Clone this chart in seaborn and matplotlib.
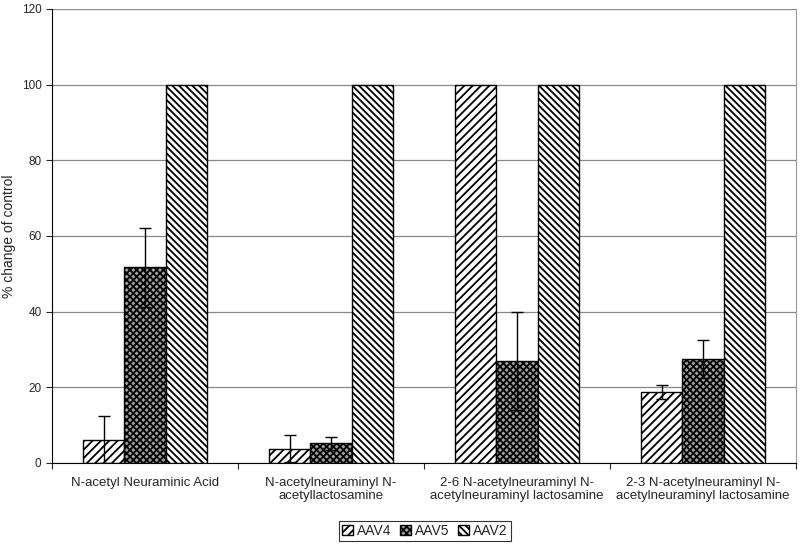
import pandas as pd
import numpy as np
import matplotlib.pyplot as plt
import seaborn as sns

# data
categories = ['N-acetyl Neuraminic Acid',
              'N-acetylneuraminyl N-\nacetyllactosamine',
              '2-6 N-acetylneuraminyl N-\nacetylneuraminyl lactosamine',
              '2-3 N-acetylneuraminyl N-\nacetylneuraminyl lactosamine']
serotypes = ['AAV4', 'AAV5', 'AAV2']
aav4 = [6.2, 3.8, 100, 18.7]
aav5 = [51.7, 5.2, 26.9, 27.4]
aav2 = [100, 100, 100, 100]
aav4_err = [6.2, 3.5, 0, 1.9]
aav5_err = [10.4, 1.7, 13.0, 5.0]
aav2_err = [0, 0, 0, 0]

values = {'AAV4': aav4, 'AAV5': aav5, 'AAV2': aav2}
errors = {'AAV4': aav4_err, 'AAV5': aav5_err, 'AAV2': aav2_err}

df = pd.DataFrame([(c, s, values[s][i]) for s in serotypes for i, c in enumerate(categories)],
                  columns=['group', 'serotype', 'pct'])

sns.set_style('white')
plt.rcParams['font.family'] = ['Liberation Sans', 'DejaVu Sans']
plt.rcParams['hatch.linewidth'] = 1.3

fig = plt.figure(figsize=(8, 5.45), dpi=100)
ax = fig.add_axes([0.065, 0.1505, 0.93, 0.833])

sns.barplot(data=df, x='group', y='pct', hue='serotype', order=categories,
            hue_order=serotypes, palette=['white', '#a0a0a0', 'white'],
            width=0.667, edgecolor='black', linewidth=1.0, saturation=1,
            legend=False, ax=ax, zorder=2)

hatches = {'AAV4': '////', 'AAV5': 'xxxxx', 'AAV2': '\\\\\\\\\\'}
for s, cont in zip(serotypes, ax.containers):
    for i, bar in enumerate(cont):
        bar.set_hatch(hatches[s])
        err = errors[s][i]
        if err > 0:
            ax.errorbar(bar.get_x() + bar.get_width() / 2, bar.get_height(), yerr=err,
                        fmt='none', ecolor='black', elinewidth=1, capsize=4,
                        capthick=1, zorder=3)

ax.set_ylim(0, 120)
ax.set_xlim(-0.5, 3.5)
ax.set_yticks(np.arange(0, 121, 20))
ax.yaxis.grid(True, color='#888888', linewidth=0.9, zorder=0)
ax.set_axisbelow(True)
ax.tick_params(axis='y', direction='out', length=4, width=0.8, labelsize=8.5, left=True)
ax.tick_params(axis='x', which='major', length=0, labelsize=9.5, pad=10)
for lbl in ax.get_xticklabels():
    lbl.set_linespacing(1.15)
ax.set_xticks(np.arange(-0.5, 3.6, 1), minor=True)
ax.tick_params(axis='x', which='minor', direction='out', length=4, width=0.8, bottom=True)
ax.set_xlabel('')
ax.set_ylabel('% change of control', fontsize=10)

ax.spines['top'].set_visible(False)
ax.spines['right'].set_color('#999999')
ax.spines['left'].set_color('black')
ax.spines['bottom'].set_color('black')

leg = ax.legend(handles=list(ax.containers), labels=serotypes, loc='center',
                bbox_to_anchor=(0.531, 0.026), bbox_transform=fig.transFigure,
                ncol=3, fontsize=10, handlelength=0.8, handleheight=0.8,
                handletextpad=0.3, columnspacing=0.6, frameon=True,
                fancybox=False, borderpad=0.2)
leg.get_frame().set_edgecolor('black')
leg.get_frame().set_linewidth(0.8)

fig.savefig('out.png', dpi=100)
